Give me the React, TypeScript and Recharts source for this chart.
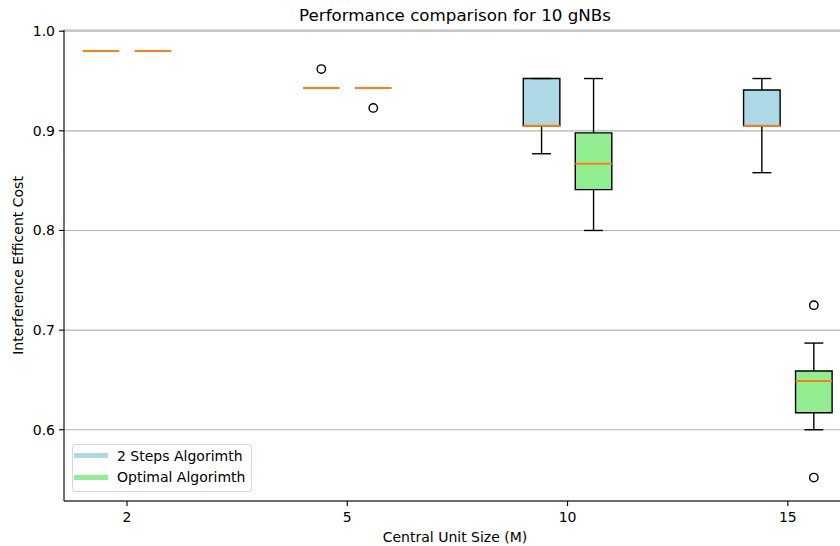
import {
  ComposedChart,
  XAxis,
  YAxis,
  CartesianGrid,
  ReferenceArea,
  ReferenceLine,
  Scatter,
  Legend,
} from 'recharts'

const groups = ['2', '5', '10', '15']
const seriesNames = ['2 Steps Algorimth', 'Optimal Algorimth']
const seriesColors = ['#add8e6', '#90ee90']

// per group: [lower whisker, q1, median, q3, upper whisker]
const twoSteps = [
  [0.98, 0.98, 0.98, 0.98, 0.98],
  [0.943, 0.943, 0.943, 0.943, 0.943],
  [0.877, 0.905, 0.905, 0.9525, 0.9525],
  [0.858, 0.905, 0.905, 0.941, 0.9525],
]
const optimal = [
  [0.98, 0.98, 0.98, 0.98, 0.98],
  [0.943, 0.943, 0.943, 0.943, 0.943],
  [0.8, 0.841, 0.867, 0.898, 0.9525],
  [0.6, 0.617, 0.649, 0.659, 0.687],
]
const twoStepsOutliers = [[], [0.962], [], []]
const optimalOutliers = [[], [0.923], [], [0.725, 0.552]]

const yTicks = [0.6, 0.7, 0.8, 0.9, 1.0]

const xDomain = [-0.286, 3.264]
const yDomain = [0.5285, 1.0012]
const boxOffset = 0.118
const halfBox = 0.083
const halfCap = 0.043
const font = 'DejaVu Sans, sans-serif'

const series = [
  { name: seriesNames[0], color: seriesColors[0], stats: twoSteps, outliers: twoStepsOutliers, dx: -boxOffset },
  { name: seriesNames[1], color: seriesColors[1], stats: optimal, outliers: optimalOutliers, dx: boxOffset },
]

function LegendBox() {
  return (
    <div
      style={{
        boxSizing: 'border-box',
        width: 180,
        height: 48,
        border: '1px solid #d6d6d6',
        borderRadius: 3,
        background: 'rgba(255,255,255,0.8)',
        fontFamily: font,
        fontSize: 14,
        color: '#000',
      }}
    >
      {series.map((s) => (
        <div key={s.name} style={{ display: 'flex', alignItems: 'center', height: 21.6, paddingLeft: 1 }}>
          <span style={{ width: 34, height: 5, background: s.color, display: 'inline-block' }} />
          <span style={{ marginLeft: 9, whiteSpace: 'nowrap' }}>{s.name}</span>
        </div>
      ))}
    </div>
  )
}

export default function App() {
  return (
    <div style={{ position: 'fixed', left: 0, top: 0, width: 840, height: 546, overflow: 'hidden', fontFamily: font, background: '#fff' }}>
      <div
        style={{
          position: 'absolute',
          left: 64,
          width: 782,
          top: 5,
          lineHeight: '20px',
          textAlign: 'center',
          fontSize: 16.7,
          color: '#000',
          zIndex: 2,
        }}
      >
        Performance comparison for 10 gNBs
      </div>
      <ComposedChart width={850} height={546} margin={{ top: 30, right: 4, bottom: 0, left: 4 }}>
        <CartesianGrid horizontal vertical={false} stroke="#b0b0b0" strokeWidth={1.1} />
        <XAxis
          xAxisId="top"
          orientation="top"
          type="number"
          domain={xDomain}
          allowDataOverflow
          height={0}
          tick={false}
          tickLine={false}
          axisLine={{ stroke: '#000', strokeWidth: 1.1 }}
        />
        <XAxis
          dataKey="x"
          type="number"
          domain={xDomain}
          allowDataOverflow
          ticks={[0, 1, 2, 3]}
          tickFormatter={(i: number) => groups[i]}
          height={45}
          tickSize={5}
          tickMargin={6}
          tick={{ fill: '#000', fontSize: 14 }}
          axisLine={{ stroke: '#000', strokeWidth: 1.1 }}
          tickLine={{ stroke: '#000', strokeWidth: 1.1 }}
          label={{ value: 'Central Unit Size (M)', position: 'center', dy: 14, fill: '#000', fontSize: 14 }}
        />
        <YAxis
          dataKey="y"
          type="number"
          domain={yDomain}
          allowDataOverflow
          ticks={yTicks}
          tickFormatter={(v: number) => v.toFixed(1)}
          width={60}
          tickSize={5}
          tickMargin={4}
          tick={{ fill: '#000', fontSize: 14 }}
          axisLine={{ stroke: '#000', strokeWidth: 1.1 }}
          tickLine={{ stroke: '#000', strokeWidth: 1.1 }}
          label={{ value: 'Interference Efficent Cost', angle: -90, position: 'center', dx: -16, fill: '#000', fontSize: 14 }}
        />
        {series.map((s) =>
          s.stats.map((st, i) => (
            <ReferenceArea
              key={`box-${s.name}-${i}`}
              x1={i + s.dx - halfBox}
              x2={i + s.dx + halfBox}
              y1={st[1]}
              y2={st[3]}
              fill={s.color}
              fillOpacity={1}
              stroke="#000"
              strokeWidth={1.4}
              ifOverflow="visible"
            />
          ))
        )}
        {series.map((s) =>
          s.stats.map((st, i) => {
            const cx = i + s.dx
            return [
              <ReferenceLine key={`wl-${s.name}-${i}`} segment={[{ x: cx, y: st[0] }, { x: cx, y: st[1] }]} stroke="#000" strokeWidth={1.4} ifOverflow="visible" />,
              <ReferenceLine key={`wh-${s.name}-${i}`} segment={[{ x: cx, y: st[3] }, { x: cx, y: st[4] }]} stroke="#000" strokeWidth={1.4} ifOverflow="visible" />,
              <ReferenceLine key={`cl-${s.name}-${i}`} segment={[{ x: cx - halfCap, y: st[0] }, { x: cx + halfCap, y: st[0] }]} stroke="#000" strokeWidth={1.4} ifOverflow="visible" />,
              <ReferenceLine key={`ch-${s.name}-${i}`} segment={[{ x: cx - halfCap, y: st[4] }, { x: cx + halfCap, y: st[4] }]} stroke="#000" strokeWidth={1.4} ifOverflow="visible" />,
              <ReferenceLine key={`md-${s.name}-${i}`} segment={[{ x: cx - halfBox, y: st[2] }, { x: cx + halfBox, y: st[2] }]} stroke="#ff7f0e" strokeWidth={2} ifOverflow="visible" />,
            ]
          })
        )}
        {series.map((s) => (
          <Scatter
            key={`out-${s.name}`}
            name={s.name}
            data={s.outliers.flatMap((vals, i) => vals.map((v) => ({ x: i + s.dx, y: v })))}
            isAnimationActive={false}
            shape={(p: any) => <circle cx={p.cx} cy={p.cy} r={4.2} fill="none" stroke="#000" strokeWidth={1.4} />}
          />
        ))}
        <Legend
          layout="vertical"
          align="center"
          verticalAlign="middle"
          wrapperStyle={{ left: 72, top: 444, width: 180, height: 48 }}
          content={() => <LegendBox />}
        />
      </ComposedChart>
    </div>
  )
}
